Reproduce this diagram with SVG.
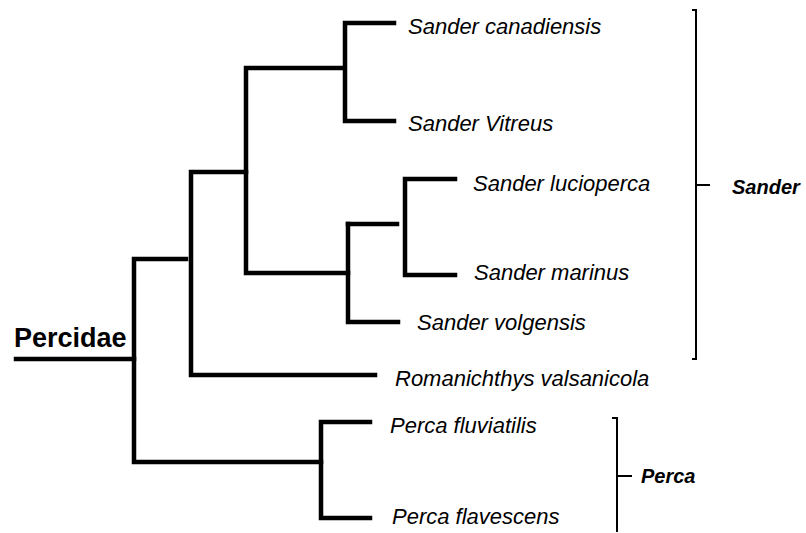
<svg xmlns="http://www.w3.org/2000/svg" width="806" height="533" viewBox="0 0 806 533">
<style>
.br{fill:none;stroke:#000;stroke-width:4.5;stroke-linecap:square;stroke-linejoin:miter}
.bk{fill:none;stroke:#000;stroke-width:2}
.sp{font-family:"Liberation Sans",Arial,sans-serif;font-style:italic;font-size:22px;fill:#000}
.gn{font-family:"Liberation Sans",Arial,sans-serif;font-style:italic;font-weight:bold;font-size:20px;fill:#000}
.rt{font-family:"Liberation Sans",Arial,sans-serif;font-weight:bold;font-size:27px;fill:#000}
</style>
<rect width="806" height="533" fill="#fff"/>
<g id="connectors">
<path class="br" d="M16,359 H134"/>
<path class="br" d="M186,259 H134 V462 H321"/>
<path class="br" d="M246,172 H191 V375 H375"/>
<path class="br" d="M343,68 H246 V273 H348"/>
<path class="br" d="M394,23 H345 V121 H394"/>
<path class="br" d="M397,224 H348"/>
<path class="br" d="M398,322 H348 V224"/>
<path class="br" d="M455,179 H405 V275 H455"/>
<path class="br" d="M370,422 H321 V518 H370"/>
</g>
<g id="root"><text class="rt" x="14" y="347">Percidae</text></g>
<g id="sander-canadiensis"><text class="sp" x="408" y="34">Sander canadiensis</text></g>
<g id="sander-vitreus"><text class="sp" x="408" y="131">Sander Vitreus</text></g>
<g id="sander-lucioperca"><text class="sp" x="473" y="191">Sander lucioperca</text></g>
<g id="sander-marinus"><text class="sp" x="474" y="280">Sander marinus</text></g>
<g id="sander-volgensis"><text class="sp" x="417" y="330">Sander volgensis</text></g>
<g id="romanichthys"><text class="sp" x="395" y="386">Romanichthys valsanicola</text></g>
<g id="perca-fluviatilis"><text class="sp" x="390" y="433">Perca fluviatilis</text></g>
<g id="perca-flavescens"><text class="sp" x="392" y="524">Perca flavescens</text></g>
<g id="sander-genus">
<path class="bk" d="M692,10 H696 V359 H692 M696,185 H710"/>
<text class="gn" x="732" y="194">Sander</text>
</g>
<g id="perca-genus">
<path class="bk" d="M612,418 H617 V532 M617,476 H632"/>
<text class="gn" x="641" y="483">Perca</text>
</g>
</svg>
